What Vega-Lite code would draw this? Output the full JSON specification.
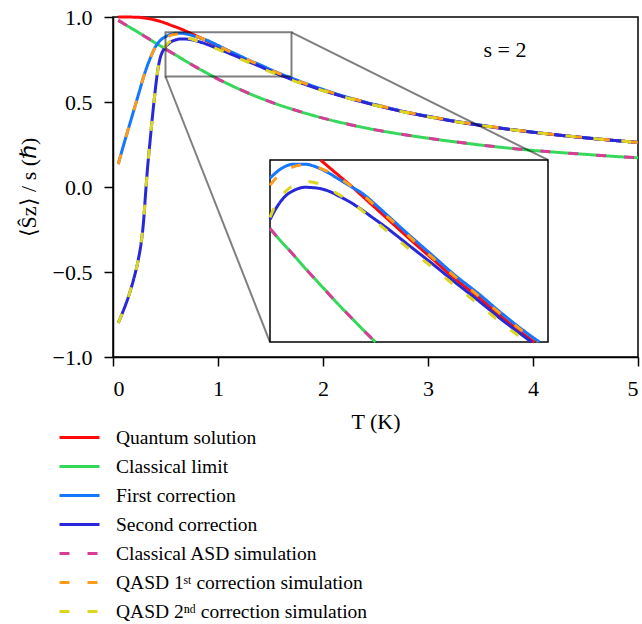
{
  "$schema": "https://vega.github.io/schema/vega-lite/v6.json",
  "width": 525,
  "height": 340,
  "autosize": {"type": "none"},
  "padding": {"left": 113, "top": 17, "right": 4, "bottom": 267},
  "config": {
    "font": "Liberation Serif",
    "view": {"stroke": "black", "strokeWidth": 1.5},
    "text": {"font": "Liberation Serif"},
    "axis": {"labelFont": "Liberation Serif", "titleFont": "Liberation Serif", "domainColor": "black", "domainWidth": 1.5, "tickColor": "black", "tickWidth": 1.5, "tickSize": 9, "labelColor": "black", "titleColor": "black", "labelFontSize": 22, "titleFontSize": 22, "titleFontWeight": "normal", "grid": false},
    "legend": {"orient": "none", "legendX": -55, "legendY": 406, "padding": 0, "rowPadding": 0, "clipHeight": 29, "labelFont": "Liberation Serif", "labelFontSize": 19.5, "labelColor": "black", "labelOffset": 15, "symbolType": "stroke", "symbolSize": 1600, "symbolStrokeWidth": 3, "labelLimit": 500}
  },
  "datasets": {
    "main": [
      {"s":"Quantum solution","T":0.05,"v":1.0},{"s":"Quantum solution","T":0.1,"v":1.0},{"s":"Quantum solution","T":0.15,"v":1.0},{"s":"Quantum solution","T":0.2,"v":0.999},{"s":"Quantum solution","T":0.25,"v":0.998},{"s":"Quantum solution","T":0.3,"v":0.994},{"s":"Quantum solution","T":0.35,"v":0.989},{"s":"Quantum solution","T":0.4,"v":0.982},{"s":"Quantum solution","T":0.45,"v":0.974},{"s":"Quantum solution","T":0.5,"v":0.964},{"s":"Quantum solution","T":0.55,"v":0.952},{"s":"Quantum solution","T":0.6,"v":0.941},{"s":"Quantum solution","T":0.65,"v":0.929},{"s":"Quantum solution","T":0.7,"v":0.915},{"s":"Quantum solution","T":0.75,"v":0.901},{"s":"Quantum solution","T":0.8,"v":0.887},{"s":"Quantum solution","T":0.85,"v":0.873},{"s":"Quantum solution","T":0.9,"v":0.858},{"s":"Quantum solution","T":0.95,"v":0.843},{"s":"Quantum solution","T":1.0,"v":0.828},{"s":"Quantum solution","T":1.1,"v":0.798},{"s":"Quantum solution","T":1.2,"v":0.769},{"s":"Quantum solution","T":1.3,"v":0.74},{"s":"Quantum solution","T":1.4,"v":0.714},{"s":"Quantum solution","T":1.5,"v":0.686},{"s":"Quantum solution","T":1.6,"v":0.66},{"s":"Quantum solution","T":1.7,"v":0.636},{"s":"Quantum solution","T":1.8,"v":0.613},{"s":"Quantum solution","T":2.0,"v":0.57},{"s":"Quantum solution","T":2.2,"v":0.532},{"s":"Quantum solution","T":2.4,"v":0.498},{"s":"Quantum solution","T":2.6,"v":0.467},{"s":"Quantum solution","T":2.8,"v":0.439},{"s":"Quantum solution","T":3.0,"v":0.415},{"s":"Quantum solution","T":3.25,"v":0.387},{"s":"Quantum solution","T":3.5,"v":0.363},{"s":"Quantum solution","T":3.75,"v":0.341},{"s":"Quantum solution","T":4.0,"v":0.322},{"s":"Quantum solution","T":4.25,"v":0.305},{"s":"Quantum solution","T":4.5,"v":0.289},{"s":"Quantum solution","T":4.75,"v":0.275},{"s":"Quantum solution","T":5.0,"v":0.262},

      {"s":"Classical limit","T":0.05,"v":0.98},{"s":"Classical limit","T":0.1,"v":0.962},{"s":"Classical limit","T":0.15,"v":0.943},{"s":"Classical limit","T":0.2,"v":0.925},{"s":"Classical limit","T":0.3,"v":0.887},{"s":"Classical limit","T":0.4,"v":0.849},{"s":"Classical limit","T":0.5,"v":0.812},{"s":"Classical limit","T":0.6,"v":0.775},{"s":"Classical limit","T":0.7,"v":0.738},{"s":"Classical limit","T":0.8,"v":0.702},{"s":"Classical limit","T":0.9,"v":0.668},{"s":"Classical limit","T":1.0,"v":0.635},{"s":"Classical limit","T":1.1,"v":0.605},{"s":"Classical limit","T":1.2,"v":0.576},{"s":"Classical limit","T":1.4,"v":0.524},{"s":"Classical limit","T":1.6,"v":0.479},{"s":"Classical limit","T":1.8,"v":0.44},{"s":"Classical limit","T":2.0,"v":0.405},{"s":"Classical limit","T":2.25,"v":0.368},{"s":"Classical limit","T":2.5,"v":0.336},{"s":"Classical limit","T":2.75,"v":0.31},{"s":"Classical limit","T":3.0,"v":0.287},{"s":"Classical limit","T":3.25,"v":0.266},{"s":"Classical limit","T":3.5,"v":0.247},{"s":"Classical limit","T":3.75,"v":0.23},{"s":"Classical limit","T":4.0,"v":0.215},{"s":"Classical limit","T":4.25,"v":0.203},{"s":"Classical limit","T":4.5,"v":0.192},{"s":"Classical limit","T":4.75,"v":0.181},{"s":"Classical limit","T":5.0,"v":0.172},

      {"s":"First correction","T":0.05,"v":0.135},{"s":"First correction","T":0.1,"v":0.245},{"s":"First correction","T":0.15,"v":0.35},{"s":"First correction","T":0.2,"v":0.455},{"s":"First correction","T":0.25,"v":0.56},{"s":"First correction","T":0.3,"v":0.665},{"s":"First correction","T":0.35,"v":0.75},{"s":"First correction","T":0.4,"v":0.82},{"s":"First correction","T":0.45,"v":0.862},{"s":"First correction","T":0.5,"v":0.884},{"s":"First correction","T":0.55,"v":0.898},{"s":"First correction","T":0.6,"v":0.904},{"s":"First correction","T":0.65,"v":0.904},{"s":"First correction","T":0.7,"v":0.9},{"s":"First correction","T":0.75,"v":0.892},{"s":"First correction","T":0.8,"v":0.882},{"s":"First correction","T":0.85,"v":0.872},{"s":"First correction","T":0.9,"v":0.862},{"s":"First correction","T":0.95,"v":0.848},{"s":"First correction","T":1.0,"v":0.833},{"s":"First correction","T":1.1,"v":0.803},{"s":"First correction","T":1.2,"v":0.774},{"s":"First correction","T":1.3,"v":0.745},{"s":"First correction","T":1.4,"v":0.719},{"s":"First correction","T":1.5,"v":0.691},{"s":"First correction","T":1.6,"v":0.665},{"s":"First correction","T":1.7,"v":0.641},{"s":"First correction","T":1.8,"v":0.617},{"s":"First correction","T":2.0,"v":0.574},{"s":"First correction","T":2.2,"v":0.534},{"s":"First correction","T":2.4,"v":0.5},{"s":"First correction","T":2.6,"v":0.469},{"s":"First correction","T":2.8,"v":0.44},{"s":"First correction","T":3.0,"v":0.416},{"s":"First correction","T":3.25,"v":0.388},{"s":"First correction","T":3.5,"v":0.364},{"s":"First correction","T":3.75,"v":0.342},{"s":"First correction","T":4.0,"v":0.323},{"s":"First correction","T":4.25,"v":0.305},{"s":"First correction","T":4.5,"v":0.29},{"s":"First correction","T":4.75,"v":0.275},{"s":"First correction","T":5.0,"v":0.262},

      {"s":"Second correction","T":0.05,"v":-0.8},{"s":"Second correction","T":0.1,"v":-0.725},{"s":"Second correction","T":0.15,"v":-0.64},{"s":"Second correction","T":0.2,"v":-0.535},{"s":"Second correction","T":0.24,"v":-0.43},{"s":"Second correction","T":0.27,"v":-0.32},{"s":"Second correction","T":0.29,"v":-0.21},{"s":"Second correction","T":0.31,"v":-0.04},{"s":"Second correction","T":0.33,"v":0.12},{"s":"Second correction","T":0.35,"v":0.25},{"s":"Second correction","T":0.37,"v":0.38},{"s":"Second correction","T":0.39,"v":0.5},{"s":"Second correction","T":0.41,"v":0.61},{"s":"Second correction","T":0.43,"v":0.7},{"s":"Second correction","T":0.45,"v":0.76},{"s":"Second correction","T":0.48,"v":0.806},{"s":"Second correction","T":0.5,"v":0.825},{"s":"Second correction","T":0.53,"v":0.843},{"s":"Second correction","T":0.565,"v":0.858},{"s":"Second correction","T":0.6,"v":0.866},{"s":"Second correction","T":0.65,"v":0.871},{"s":"Second correction","T":0.7,"v":0.87},{"s":"Second correction","T":0.75,"v":0.866},{"s":"Second correction","T":0.8,"v":0.858},{"s":"Second correction","T":0.85,"v":0.849},{"s":"Second correction","T":0.9,"v":0.838},{"s":"Second correction","T":0.95,"v":0.826},{"s":"Second correction","T":1.0,"v":0.814},{"s":"Second correction","T":1.1,"v":0.788},{"s":"Second correction","T":1.2,"v":0.762},{"s":"Second correction","T":1.3,"v":0.735},{"s":"Second correction","T":1.4,"v":0.709},{"s":"Second correction","T":1.5,"v":0.682},{"s":"Second correction","T":1.6,"v":0.657},{"s":"Second correction","T":1.7,"v":0.633},{"s":"Second correction","T":1.8,"v":0.61},{"s":"Second correction","T":2.0,"v":0.568},{"s":"Second correction","T":2.2,"v":0.53},{"s":"Second correction","T":2.4,"v":0.497},{"s":"Second correction","T":2.6,"v":0.466},{"s":"Second correction","T":2.8,"v":0.438},{"s":"Second correction","T":3.0,"v":0.414},{"s":"Second correction","T":3.25,"v":0.386},{"s":"Second correction","T":3.5,"v":0.362},{"s":"Second correction","T":3.75,"v":0.341},{"s":"Second correction","T":4.0,"v":0.322},{"s":"Second correction","T":4.25,"v":0.305},{"s":"Second correction","T":4.5,"v":0.289},{"s":"Second correction","T":4.75,"v":0.275},{"s":"Second correction","T":5.0,"v":0.262},

      {"s":"Classical ASD simulation","T":0.05,"v":0.98},{"s":"Classical ASD simulation","T":0.1,"v":0.962},{"s":"Classical ASD simulation","T":0.15,"v":0.943},{"s":"Classical ASD simulation","T":0.2,"v":0.925},{"s":"Classical ASD simulation","T":0.3,"v":0.887},{"s":"Classical ASD simulation","T":0.4,"v":0.849},{"s":"Classical ASD simulation","T":0.5,"v":0.812},{"s":"Classical ASD simulation","T":0.6,"v":0.775},{"s":"Classical ASD simulation","T":0.7,"v":0.738},{"s":"Classical ASD simulation","T":0.8,"v":0.702},{"s":"Classical ASD simulation","T":0.9,"v":0.668},{"s":"Classical ASD simulation","T":1.0,"v":0.635},{"s":"Classical ASD simulation","T":1.1,"v":0.605},{"s":"Classical ASD simulation","T":1.2,"v":0.576},{"s":"Classical ASD simulation","T":1.4,"v":0.524},{"s":"Classical ASD simulation","T":1.6,"v":0.479},{"s":"Classical ASD simulation","T":1.8,"v":0.44},{"s":"Classical ASD simulation","T":2.0,"v":0.405},{"s":"Classical ASD simulation","T":2.25,"v":0.368},{"s":"Classical ASD simulation","T":2.5,"v":0.336},{"s":"Classical ASD simulation","T":2.75,"v":0.31},{"s":"Classical ASD simulation","T":3.0,"v":0.287},{"s":"Classical ASD simulation","T":3.25,"v":0.266},{"s":"Classical ASD simulation","T":3.5,"v":0.247},{"s":"Classical ASD simulation","T":3.75,"v":0.23},{"s":"Classical ASD simulation","T":4.0,"v":0.215},{"s":"Classical ASD simulation","T":4.25,"v":0.203},{"s":"Classical ASD simulation","T":4.5,"v":0.192},{"s":"Classical ASD simulation","T":4.75,"v":0.181},{"s":"Classical ASD simulation","T":5.0,"v":0.172},

      {"s":"QASD 1ˢᵗ correction simulation","T":0.05,"v":0.135},{"s":"QASD 1ˢᵗ correction simulation","T":0.1,"v":0.245},{"s":"QASD 1ˢᵗ correction simulation","T":0.15,"v":0.35},{"s":"QASD 1ˢᵗ correction simulation","T":0.2,"v":0.455},{"s":"QASD 1ˢᵗ correction simulation","T":0.25,"v":0.56},{"s":"QASD 1ˢᵗ correction simulation","T":0.3,"v":0.665},{"s":"QASD 1ˢᵗ correction simulation","T":0.35,"v":0.75},{"s":"QASD 1ˢᵗ correction simulation","T":0.4,"v":0.82},{"s":"QASD 1ˢᵗ correction simulation","T":0.45,"v":0.858},{"s":"QASD 1ˢᵗ correction simulation","T":0.5,"v":0.874},{"s":"QASD 1ˢᵗ correction simulation","T":0.54,"v":0.889},{"s":"QASD 1ˢᵗ correction simulation","T":0.57,"v":0.896},{"s":"QASD 1ˢᵗ correction simulation","T":0.65,"v":0.903},{"s":"QASD 1ˢᵗ correction simulation","T":0.7,"v":0.9},{"s":"QASD 1ˢᵗ correction simulation","T":0.8,"v":0.884},{"s":"QASD 1ˢᵗ correction simulation","T":0.9,"v":0.86},{"s":"QASD 1ˢᵗ correction simulation","T":1.0,"v":0.831},{"s":"QASD 1ˢᵗ correction simulation","T":1.1,"v":0.801},{"s":"QASD 1ˢᵗ correction simulation","T":1.2,"v":0.771},{"s":"QASD 1ˢᵗ correction simulation","T":1.3,"v":0.743},{"s":"QASD 1ˢᵗ correction simulation","T":1.4,"v":0.716},{"s":"QASD 1ˢᵗ correction simulation","T":1.5,"v":0.689},{"s":"QASD 1ˢᵗ correction simulation","T":1.6,"v":0.663},{"s":"QASD 1ˢᵗ correction simulation","T":1.7,"v":0.639},{"s":"QASD 1ˢᵗ correction simulation","T":1.8,"v":0.615},{"s":"QASD 1ˢᵗ correction simulation","T":2.0,"v":0.572},{"s":"QASD 1ˢᵗ correction simulation","T":2.2,"v":0.534},{"s":"QASD 1ˢᵗ correction simulation","T":2.4,"v":0.5},{"s":"QASD 1ˢᵗ correction simulation","T":2.6,"v":0.469},{"s":"QASD 1ˢᵗ correction simulation","T":2.8,"v":0.44},{"s":"QASD 1ˢᵗ correction simulation","T":3.0,"v":0.416},{"s":"QASD 1ˢᵗ correction simulation","T":3.25,"v":0.388},{"s":"QASD 1ˢᵗ correction simulation","T":3.5,"v":0.364},{"s":"QASD 1ˢᵗ correction simulation","T":3.75,"v":0.342},{"s":"QASD 1ˢᵗ correction simulation","T":4.0,"v":0.323},{"s":"QASD 1ˢᵗ correction simulation","T":4.25,"v":0.305},{"s":"QASD 1ˢᵗ correction simulation","T":4.5,"v":0.29},{"s":"QASD 1ˢᵗ correction simulation","T":4.75,"v":0.275},{"s":"QASD 1ˢᵗ correction simulation","T":5.0,"v":0.262},

      {"s":"QASD 2ⁿᵈ correction simulation","T":0.05,"v":-0.8},{"s":"QASD 2ⁿᵈ correction simulation","T":0.1,"v":-0.725},{"s":"QASD 2ⁿᵈ correction simulation","T":0.15,"v":-0.64},{"s":"QASD 2ⁿᵈ correction simulation","T":0.2,"v":-0.535},{"s":"QASD 2ⁿᵈ correction simulation","T":0.24,"v":-0.43},{"s":"QASD 2ⁿᵈ correction simulation","T":0.27,"v":-0.32},{"s":"QASD 2ⁿᵈ correction simulation","T":0.29,"v":-0.21},{"s":"QASD 2ⁿᵈ correction simulation","T":0.31,"v":-0.04},{"s":"QASD 2ⁿᵈ correction simulation","T":0.33,"v":0.12},{"s":"QASD 2ⁿᵈ correction simulation","T":0.35,"v":0.25},{"s":"QASD 2ⁿᵈ correction simulation","T":0.37,"v":0.38},{"s":"QASD 2ⁿᵈ correction simulation","T":0.39,"v":0.5},{"s":"QASD 2ⁿᵈ correction simulation","T":0.41,"v":0.61},{"s":"QASD 2ⁿᵈ correction simulation","T":0.43,"v":0.7},{"s":"QASD 2ⁿᵈ correction simulation","T":0.45,"v":0.76},{"s":"QASD 2ⁿᵈ correction simulation","T":0.48,"v":0.808},{"s":"QASD 2ⁿᵈ correction simulation","T":0.5,"v":0.828},{"s":"QASD 2ⁿᵈ correction simulation","T":0.53,"v":0.85},{"s":"QASD 2ⁿᵈ correction simulation","T":0.57,"v":0.866},{"s":"QASD 2ⁿᵈ correction simulation","T":0.62,"v":0.876},{"s":"QASD 2ⁿᵈ correction simulation","T":0.67,"v":0.879},{"s":"QASD 2ⁿᵈ correction simulation","T":0.72,"v":0.875},{"s":"QASD 2ⁿᵈ correction simulation","T":0.79,"v":0.862},{"s":"QASD 2ⁿᵈ correction simulation","T":0.85,"v":0.85},{"s":"QASD 2ⁿᵈ correction simulation","T":0.9,"v":0.837},{"s":"QASD 2ⁿᵈ correction simulation","T":1.0,"v":0.81},{"s":"QASD 2ⁿᵈ correction simulation","T":1.1,"v":0.783},{"s":"QASD 2ⁿᵈ correction simulation","T":1.2,"v":0.757},{"s":"QASD 2ⁿᵈ correction simulation","T":1.3,"v":0.73},{"s":"QASD 2ⁿᵈ correction simulation","T":1.4,"v":0.704},{"s":"QASD 2ⁿᵈ correction simulation","T":1.5,"v":0.677},{"s":"QASD 2ⁿᵈ correction simulation","T":1.6,"v":0.652},{"s":"QASD 2ⁿᵈ correction simulation","T":1.7,"v":0.629},{"s":"QASD 2ⁿᵈ correction simulation","T":1.8,"v":0.607},{"s":"QASD 2ⁿᵈ correction simulation","T":2.0,"v":0.566},{"s":"QASD 2ⁿᵈ correction simulation","T":2.2,"v":0.529},{"s":"QASD 2ⁿᵈ correction simulation","T":2.4,"v":0.496},{"s":"QASD 2ⁿᵈ correction simulation","T":2.6,"v":0.465},{"s":"QASD 2ⁿᵈ correction simulation","T":2.8,"v":0.437},{"s":"QASD 2ⁿᵈ correction simulation","T":3.0,"v":0.413},{"s":"QASD 2ⁿᵈ correction simulation","T":3.25,"v":0.386},{"s":"QASD 2ⁿᵈ correction simulation","T":3.5,"v":0.362},{"s":"QASD 2ⁿᵈ correction simulation","T":3.75,"v":0.341},{"s":"QASD 2ⁿᵈ correction simulation","T":4.0,"v":0.322},{"s":"QASD 2ⁿᵈ correction simulation","T":4.25,"v":0.305},{"s":"QASD 2ⁿᵈ correction simulation","T":4.5,"v":0.289},{"s":"QASD 2ⁿᵈ correction simulation","T":4.75,"v":0.275},{"s":"QASD 2ⁿᵈ correction simulation","T":5.0,"v":0.262}
    ],
    "inset": [
      {"s":"Quantum solution","T":0.718,"v":0.91},{"s":"Quantum solution","T":0.75,"v":0.901},{"s":"Quantum solution","T":0.8,"v":0.887},{"s":"Quantum solution","T":0.85,"v":0.873},{"s":"Quantum solution","T":0.9,"v":0.858},{"s":"Quantum solution","T":0.95,"v":0.843},{"s":"Quantum solution","T":1.0,"v":0.828},{"s":"Quantum solution","T":1.1,"v":0.798},{"s":"Quantum solution","T":1.2,"v":0.769},{"s":"Quantum solution","T":1.3,"v":0.74},{"s":"Quantum solution","T":1.4,"v":0.714},{"s":"Quantum solution","T":1.5,"v":0.686},{"s":"Quantum solution","T":1.6,"v":0.66},{"s":"Quantum solution","T":1.642,"v":0.65},

      {"s":"Classical limit","T":0.5,"v":0.812},{"s":"Classical limit","T":0.55,"v":0.793},{"s":"Classical limit","T":0.6,"v":0.775},{"s":"Classical limit","T":0.65,"v":0.756},{"s":"Classical limit","T":0.7,"v":0.738},{"s":"Classical limit","T":0.75,"v":0.72},{"s":"Classical limit","T":0.8,"v":0.702},{"s":"Classical limit","T":0.85,"v":0.685},{"s":"Classical limit","T":0.9,"v":0.668},{"s":"Classical limit","T":0.955,"v":0.65},

      {"s":"First correction","T":0.5,"v":0.884},{"s":"First correction","T":0.55,"v":0.898},{"s":"First correction","T":0.6,"v":0.904},{"s":"First correction","T":0.65,"v":0.904},{"s":"First correction","T":0.7,"v":0.9},{"s":"First correction","T":0.75,"v":0.892},{"s":"First correction","T":0.8,"v":0.882},{"s":"First correction","T":0.85,"v":0.872},{"s":"First correction","T":0.9,"v":0.862},{"s":"First correction","T":0.95,"v":0.848},{"s":"First correction","T":1.0,"v":0.833},{"s":"First correction","T":1.1,"v":0.803},{"s":"First correction","T":1.2,"v":0.774},{"s":"First correction","T":1.3,"v":0.745},{"s":"First correction","T":1.4,"v":0.719},{"s":"First correction","T":1.5,"v":0.691},{"s":"First correction","T":1.6,"v":0.665},{"s":"First correction","T":1.663,"v":0.65},

      {"s":"Second correction","T":0.5,"v":0.825},{"s":"Second correction","T":0.53,"v":0.843},{"s":"Second correction","T":0.565,"v":0.858},{"s":"Second correction","T":0.6,"v":0.866},{"s":"Second correction","T":0.65,"v":0.871},{"s":"Second correction","T":0.7,"v":0.87},{"s":"Second correction","T":0.75,"v":0.866},{"s":"Second correction","T":0.8,"v":0.858},{"s":"Second correction","T":0.85,"v":0.849},{"s":"Second correction","T":0.9,"v":0.838},{"s":"Second correction","T":0.95,"v":0.826},{"s":"Second correction","T":1.0,"v":0.814},{"s":"Second correction","T":1.1,"v":0.788},{"s":"Second correction","T":1.2,"v":0.762},{"s":"Second correction","T":1.3,"v":0.735},{"s":"Second correction","T":1.4,"v":0.709},{"s":"Second correction","T":1.5,"v":0.682},{"s":"Second correction","T":1.6,"v":0.657},{"s":"Second correction","T":1.629,"v":0.65},

      {"s":"Classical ASD simulation","T":0.5,"v":0.812},{"s":"Classical ASD simulation","T":0.55,"v":0.793},{"s":"Classical ASD simulation","T":0.6,"v":0.775},{"s":"Classical ASD simulation","T":0.65,"v":0.756},{"s":"Classical ASD simulation","T":0.7,"v":0.738},{"s":"Classical ASD simulation","T":0.75,"v":0.72},{"s":"Classical ASD simulation","T":0.8,"v":0.702},{"s":"Classical ASD simulation","T":0.85,"v":0.685},{"s":"Classical ASD simulation","T":0.9,"v":0.668},{"s":"Classical ASD simulation","T":0.955,"v":0.65},

      {"s":"QASD 1ˢᵗ correction simulation","T":0.5,"v":0.874},{"s":"QASD 1ˢᵗ correction simulation","T":0.54,"v":0.889},{"s":"QASD 1ˢᵗ correction simulation","T":0.57,"v":0.896},{"s":"QASD 1ˢᵗ correction simulation","T":0.65,"v":0.903},{"s":"QASD 1ˢᵗ correction simulation","T":0.7,"v":0.9},{"s":"QASD 1ˢᵗ correction simulation","T":0.8,"v":0.884},{"s":"QASD 1ˢᵗ correction simulation","T":0.9,"v":0.86},{"s":"QASD 1ˢᵗ correction simulation","T":1.0,"v":0.831},{"s":"QASD 1ˢᵗ correction simulation","T":1.1,"v":0.801},{"s":"QASD 1ˢᵗ correction simulation","T":1.2,"v":0.771},{"s":"QASD 1ˢᵗ correction simulation","T":1.3,"v":0.743},{"s":"QASD 1ˢᵗ correction simulation","T":1.4,"v":0.716},{"s":"QASD 1ˢᵗ correction simulation","T":1.5,"v":0.689},{"s":"QASD 1ˢᵗ correction simulation","T":1.6,"v":0.663},{"s":"QASD 1ˢᵗ correction simulation","T":1.654,"v":0.65},

      {"s":"QASD 2ⁿᵈ correction simulation","T":0.5,"v":0.828},{"s":"QASD 2ⁿᵈ correction simulation","T":0.53,"v":0.85},{"s":"QASD 2ⁿᵈ correction simulation","T":0.57,"v":0.866},{"s":"QASD 2ⁿᵈ correction simulation","T":0.62,"v":0.876},{"s":"QASD 2ⁿᵈ correction simulation","T":0.67,"v":0.879},{"s":"QASD 2ⁿᵈ correction simulation","T":0.72,"v":0.875},{"s":"QASD 2ⁿᵈ correction simulation","T":0.79,"v":0.862},{"s":"QASD 2ⁿᵈ correction simulation","T":0.85,"v":0.85},{"s":"QASD 2ⁿᵈ correction simulation","T":0.9,"v":0.837},{"s":"QASD 2ⁿᵈ correction simulation","T":1.0,"v":0.81},{"s":"QASD 2ⁿᵈ correction simulation","T":1.1,"v":0.783},{"s":"QASD 2ⁿᵈ correction simulation","T":1.2,"v":0.757},{"s":"QASD 2ⁿᵈ correction simulation","T":1.3,"v":0.73},{"s":"QASD 2ⁿᵈ correction simulation","T":1.4,"v":0.704},{"s":"QASD 2ⁿᵈ correction simulation","T":1.5,"v":0.677},{"s":"QASD 2ⁿᵈ correction simulation","T":1.6,"v":0.652},{"s":"QASD 2ⁿᵈ correction simulation","T":1.608,"v":0.65}
    ],
    "zoombox": [{"x": 0.5, "x2": 1.7, "y": 0.65, "y2": 0.91}],
    "connectors": [
      {"x": 1.7, "y": 0.91, "x2": 4.143, "y2": 0.159},
      {"x": 0.5, "y": 0.65, "x2": 1.495, "y2": -0.912}
    ],
    "note": [{"T": 3.733, "v": 0.806, "label": "s = 2"}]
  },
  "layer": [
    {
      "layer": [
        {
          "data": {"name": "main"},
          "mark": {"type": "line", "strokeWidth": 3, "interpolate": "monotone"},
          "encoding": {
            "x": {"field": "T", "type": "quantitative", "scale": {"domain": [0, 5], "nice": false, "zero": false},
                  "axis": {"title": "T (K)", "values": [0, 1, 2, 3, 4, 5], "format": "d", "labelPadding": 12, "titlePadding": 12}},
            "y": {"field": "v", "type": "quantitative", "scale": {"domain": [-1, 1], "nice": false, "zero": false},
                  "axis": {"title": "⟨Ŝz⟩ / s (ℏ)", "values": [-1, -0.5, 0, 0.5, 1], "format": ".1f", "labelPadding": 12, "titlePadding": 12}},
            "color": {"field": "s", "type": "nominal", "title": null,
                      "scale": {"domain": ["Quantum solution", "Classical limit", "First correction", "Second correction", "Classical ASD simulation", "QASD 1ˢᵗ correction simulation", "QASD 2ⁿᵈ correction simulation"],
                                "range": ["#ff0a0a", "#35d85a", "#1576ff", "#2828d8", "#d83c98", "#ff9b1a", "#dcd620"]}},
            "strokeDash": {"field": "s", "type": "nominal", "title": null,
                      "scale": {"domain": ["Quantum solution", "Classical limit", "First correction", "Second correction", "Classical ASD simulation", "QASD 1ˢᵗ correction simulation", "QASD 2ⁿᵈ correction simulation"],
                                "range": [[1, 0], [1, 0], [1, 0], [1, 0], [10, 18], [10, 18], [10, 18]]}}
          }
        },
        {
          "mark": {"type": "rule", "stroke": "#808080", "strokeWidth": 1.2, "strokeDash": [5, 3]},
          "encoding": {"y": {"datum": 0}}
        },
        {
          "data": {"name": "zoombox"},
          "mark": {"type": "rect", "filled": false, "stroke": "black", "strokeOpacity": 0.5, "strokeWidth": 2},
          "encoding": {
            "x": {"field": "x", "type": "quantitative"}, "x2": {"field": "x2"},
            "y": {"field": "y", "type": "quantitative"}, "y2": {"field": "y2"}
          }
        },
        {
          "data": {"name": "connectors"},
          "mark": {"type": "rule", "stroke": "black", "strokeOpacity": 0.5, "strokeWidth": 2},
          "encoding": {
            "x": {"field": "x", "type": "quantitative"}, "x2": {"field": "x2"},
            "y": {"field": "y", "type": "quantitative"}, "y2": {"field": "y2"}
          }
        },
        {
          "data": {"name": "note"},
          "mark": {"type": "text", "font": "Liberation Serif", "fontSize": 22, "align": "center", "baseline": "middle", "color": "black"},
          "encoding": {
            "x": {"field": "T", "type": "quantitative"},
            "y": {"field": "v", "type": "quantitative"},
            "text": {"field": "label"}
          }
        }
      ]
    },
    {
      "layer": [
        {
          "data": {"name": "zoombox"},
          "mark": {"type": "rect", "fill": "white", "stroke": "black", "strokeWidth": 1.5},
          "encoding": {
            "x": {"field": "x", "type": "quantitative", "scale": {"domain": [0.5, 1.7], "range": [157, 435], "nice": false, "zero": false}, "axis": null},
            "x2": {"field": "x2"},
            "y": {"field": "y", "type": "quantitative", "scale": {"domain": [0.65, 0.91], "range": [325, 143], "nice": false, "zero": false}, "axis": null},
            "y2": {"field": "y2"}
          }
        },
        {
          "data": {"name": "inset"},
          "mark": {"type": "line", "strokeWidth": 3, "interpolate": "monotone"},
          "encoding": {
            "x": {"field": "T", "type": "quantitative", "scale": {"domain": [0.5, 1.7], "range": [157, 435], "nice": false, "zero": false}, "axis": null},
            "y": {"field": "v", "type": "quantitative", "scale": {"domain": [0.65, 0.91], "range": [325, 143], "nice": false, "zero": false}, "axis": null},
            "color": {"field": "s", "type": "nominal", "title": null},
            "strokeDash": {"field": "s", "type": "nominal", "title": null}
          }
        }
      ]
    }
  ],
  "resolve": {"scale": {"x": "independent", "y": "independent"}}
}
